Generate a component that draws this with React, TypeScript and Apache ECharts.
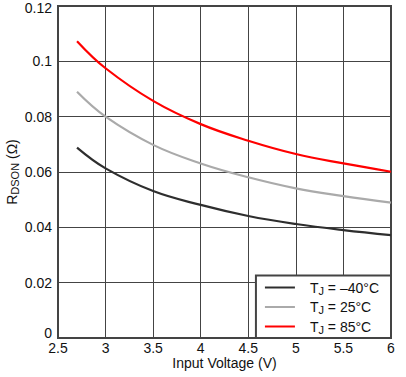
import React, { useEffect, useRef } from "react";
import * as echarts from "echarts";

const voltages = [2.7, 3, 3.5, 4, 4.5, 5, 5.5, 6];
const rdsonM40 = [0.0688, 0.0613, 0.0531, 0.0481, 0.0441, 0.0412, 0.039, 0.0372];
const rdson25 = [0.089, 0.08, 0.0698, 0.0631, 0.0581, 0.0541, 0.0513, 0.0489];
const rdson85 = [0.1073, 0.0975, 0.0857, 0.0773, 0.0713, 0.0665, 0.0631, 0.0601];
const seriesNames = ["TJ = –40°C", "TJ = 25°C", "TJ = 85°C"];
const legendTemps = [" = –40°C", " = 25°C", " = 85°C"];
const seriesColors = ["#2e2e2e", "#aaaaaa", "#ff0000"];

const FONT = "Liberation Sans, Arial, sans-serif";

export default function App() {
  const ref = useRef<HTMLDivElement>(null);
  useEffect(() => {
    if (!ref.current) return;
    const chart = echarts.init(ref.current, undefined, { renderer: "svg" });
    const allData = [rdsonM40, rdson25, rdson85];
    chart.setOption({
      animation: false,
      textStyle: { fontFamily: FONT },
      grid: {
        left: 58,
        right: 15,
        top: 6,
        bottom: 39,
        containLabel: false,
        outerBoundsMode: "none",
        show: true,
        borderColor: "#444",
        borderWidth: 2,
        backgroundColor: "#fff",
      },
      xAxis: {
        type: "value",
        min: 2.5,
        max: 6,
        interval: 0.5,
        name: "Input Voltage (V)",
        nameLocation: "middle",
        nameGap: 18,
        nameMoveOverlap: false,
        nameTextStyle: { fontSize: 14, lineHeight: 14, color: "#111", fontFamily: FONT },
        axisLine: { show: false },
        axisTick: { show: false },
        axisLabel: { fontSize: 14, lineHeight: 14, color: "#111", margin: 3, fontFamily: FONT },
        splitLine: { show: true, lineStyle: { color: "#444", width: 1 } },
      },
      yAxis: {
        type: "value",
        min: 0,
        max: 0.12,
        interval: 0.02,
        name: "{r|R}{s|DSON}{r| (Ω)}",
        nameLocation: "middle",
        nameRotate: 90,
        nameGap: 38,
        nameMoveOverlap: false,
        nameTextStyle: {
          rich: {
            r: { fontSize: 14, color: "#111", fontFamily: FONT },
            s: { fontSize: 11, color: "#111", fontFamily: FONT, padding: [6, 0, 0, 0] },
          },
        },
        axisLine: { show: false },
        axisTick: { show: false },
        axisLabel: {
          fontSize: 14,
          color: "#111",
          margin: 6,
          fontFamily: FONT,
          formatter: (v: number) =>
            v === 0 ? "{z|0}" : v >= 0.119 ? "{t|0.12}" : String(parseFloat(v.toFixed(2))),
          rich: {
            z: { fontSize: 14, color: "#111", fontFamily: FONT, padding: [0, 0, 10, 0] },
            t: { fontSize: 14, color: "#111", fontFamily: FONT, padding: [4, 0, 0, 0] },
          },
        },
        splitLine: { show: true, lineStyle: { color: "#444", width: 1 } },
      },
      legend: {
        right: 15,
        bottom: 39,
        orient: "vertical",
        backgroundColor: "#fff",
        borderColor: "#444",
        borderWidth: 2,
        borderRadius: 0,
        padding: [5, 12, 3, 9],
        itemGap: 4,
        itemWidth: 30,
        itemHeight: 16,
        data: seriesNames.map((n) => ({ name: n, icon: "path://M0,7 L30,7 L30,9 L0,9 Z" })),
        formatter: (name: string) => {
          const i = seriesNames.indexOf(name);
          return "{a|T}{s|J}{a|" + legendTemps[i] + "}";
        },
        textStyle: {
          padding: [0, 0, 0, 10],
          rich: {
            a: { fontSize: 14, color: "#111", fontFamily: FONT },
            s: { fontSize: 11, color: "#111", fontFamily: FONT, padding: [6, 0, 0, 0] },
          },
        },
      },
      series: allData.map((d, i) => ({
        type: "line",
        name: seriesNames[i],
        data: voltages.map((v, j) => [v, d[j]]),
        smooth: 0.4,
        showSymbol: false,
        symbol: "none",
        color: seriesColors[i],
        lineStyle: { color: seriesColors[i], width: 2.2 },
      })),
    });
    return () => chart.dispose();
  }, []);
  return <div ref={ref} style={{ width: 406, height: 377, position: "absolute", left: 0, top: 0 }} />;
}
